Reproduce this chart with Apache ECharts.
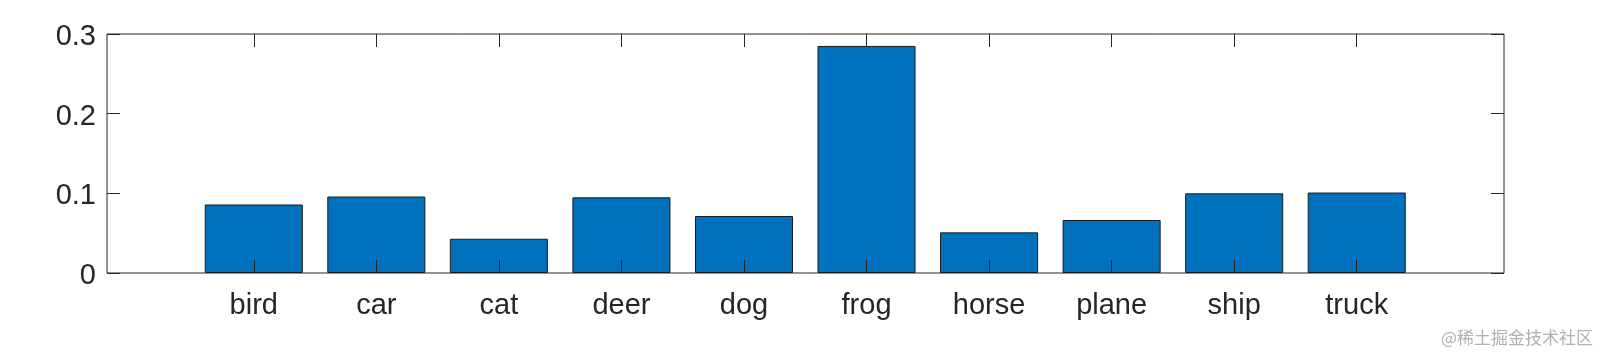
<!DOCTYPE html>
<html>
<head>
<meta charset="utf-8">
<script src="https://cdn.jsdelivr.net/npm/echarts@6/dist/echarts.min.js"></script>
<style>
html,body{margin:0;padding:0;background:#fff;}
#chart{width:1602px;height:352px;}
</style>
</head>
<body>
<div id="chart"></div>
<script>
const categories = ['bird', 'car', 'cat', 'deer', 'dog', 'frog', 'horse', 'plane', 'ship', 'truck'];
const values = [0.086, 0.096, 0.043, 0.095, 0.0715, 0.285, 0.051, 0.0665, 0.100, 0.101];
const yTicks = [0, 0.1, 0.2, 0.3];
const watermark = '@稀土掘金技术社区';

const axisColor = '#262626';
const font = 'Liberation Sans, Arial, Helvetica, sans-serif';
const chart = echarts.init(document.getElementById('chart'), null, {renderer: 'canvas'});

chart.setOption({
  animation: false,
  backgroundColor: '#ffffff',
  grid: [
    {left: 107, top: 34, width: 1397, height: 239, show: true, borderColor: axisColor, borderWidth: 1, backgroundColor: 'transparent'},
    {left: 192.5, top: 34, width: 1225.5, height: 239}
  ],
  xAxis: [
    {gridIndex: 0, type: 'value', min: 0, max: 1, show: false},
    {gridIndex: 1, type: 'category', data: categories, position: 'bottom', z: 5,
     axisLine: {show: false},
     axisTick: {show: true, inside: true, length: 13, alignWithLabel: true, lineStyle: {color: axisColor, width: 1}},
     axisLabel: {show: true, color: axisColor, fontSize: 29, fontFamily: font, margin: 18}},
    {gridIndex: 1, type: 'category', data: categories, position: 'top', z: 5,
     axisLine: {show: false},
     axisTick: {show: true, inside: true, length: 13, alignWithLabel: true, lineStyle: {color: axisColor, width: 1}},
     axisLabel: {show: false}}
  ],
  yAxis: [
    {gridIndex: 0, type: 'value', min: yTicks[0], max: yTicks[yTicks.length - 1], interval: 0.1, position: 'left', z: 5,
     splitLine: {show: false},
     axisLine: {show: false},
     axisTick: {show: true, inside: true, length: 13, lineStyle: {color: axisColor, width: 1}},
     axisLabel: {show: true, color: axisColor, fontSize: 29, fontFamily: font, margin: 11,
       formatter: v => '{t|' + String(+v.toFixed(1)) + '}',
       rich: {t: {color: axisColor, fontSize: 29, fontFamily: font, padding: [6, 0, 0, 0]}}}},
    {gridIndex: 0, type: 'value', min: yTicks[0], max: yTicks[yTicks.length - 1], interval: 0.1, position: 'right', z: 5,
     splitLine: {show: false},
     axisLine: {show: false},
     axisTick: {show: true, inside: true, length: 13, lineStyle: {color: axisColor, width: 1}},
     axisLabel: {show: false}},
    {gridIndex: 1, type: 'value', min: yTicks[0], max: yTicks[yTicks.length - 1], show: false}
  ],
  series: [
    {type: 'bar', xAxisIndex: 1, yAxisIndex: 2, data: values, barWidth: '80%',
     itemStyle: {color: '#0072BD', borderColor: '#1a1a1a', borderWidth: 1}}
  ],
  graphic: [
    {type: 'text', right: 9, bottom: 6,
     style: {text: watermark, fill: '#b0b0b0', fontSize: 17, fontFamily: 'Noto Sans CJK SC, sans-serif'}}
  ]
});
</script>
</body>
</html>
